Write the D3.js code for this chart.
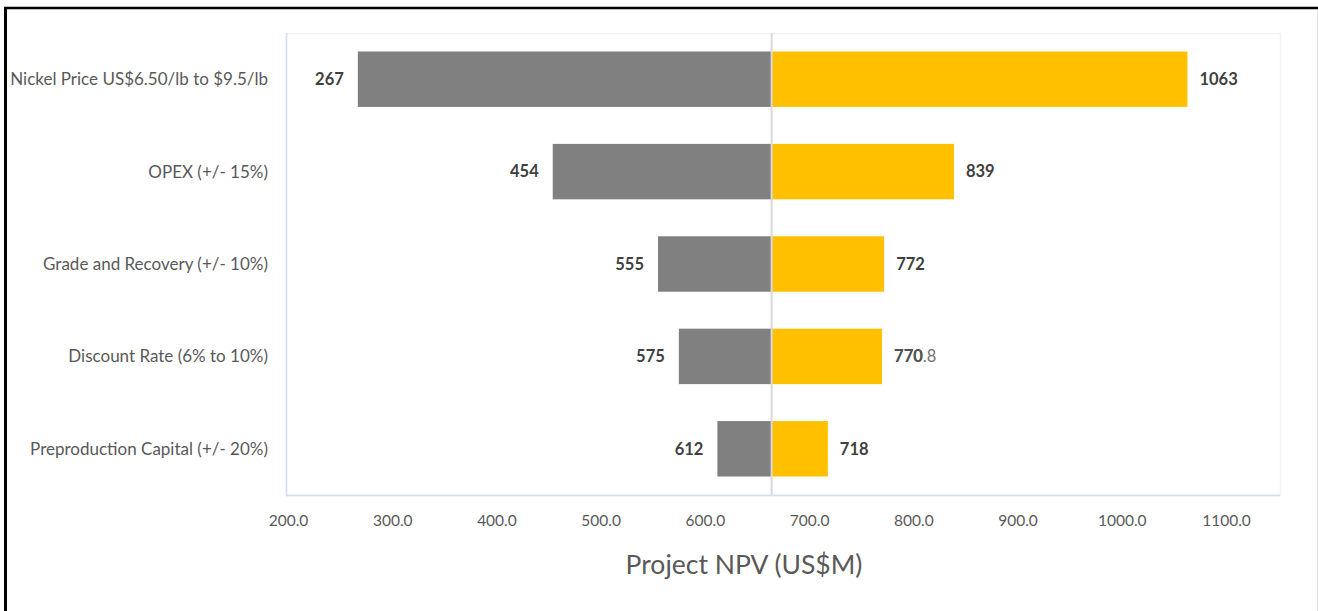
<!DOCTYPE html>
<html>
<head>
<meta charset="utf-8">
<script src="https://cdn.jsdelivr.net/npm/d3@7"></script>
<style>
  body { margin: 0; background: #fff; }
  svg { display: block; font-family: Lato, "Open Sans", sans-serif; }
</style>
</head>
<body>
<div id="chart-area"></div>
<script>
let width = 1318,
    height = 611;

// tornado data
let categories = [
    "Nickel Price US$6.50/lb to $9.5/lb",
    "OPEX (+/- 15%)",
    "Grade and Recovery (+/- 10%)",
    "Discount Rate (6% to 10%)",
    "Preproduction Capital (+/- 20%)"
];
let lowValues = [267, 454, 555, 575, 612];   // grey bars
let highValues = [1063, 839, 772, 770, 718]; // yellow bars
let baseValue = 664;
let tickValues = [200, 300, 400, 500, 600, 700, 800, 900, 1000, 1100];
let strayLabel = {row: 3, text: "770.8"}; // leftover label sitting on the 770 one

let grey = "#808080", yellow = "#FFC000";

let svg = d3.select("#chart-area")
    .append("svg")
    .attr("width", width)
    .attr("height", height);

// outer frame (black on top / left, faint on right)
svg.append("line").attr("x1", 4).attr("x2", 1318).attr("y1", 8).attr("y2", 8)
    .attr("stroke", "#000").attr("stroke-width", 2.5);
svg.append("line").attr("x1", 5.5).attr("x2", 5.5).attr("y1", 7).attr("y2", 611)
    .attr("stroke", "#000").attr("stroke-width", 3);
svg.append("line").attr("x1", 1317.5).attr("x2", 1317.5).attr("y1", 10).attr("y2", 611)
    .attr("stroke", "#e6e6e6").attr("stroke-width", 1);

let plot = {left: 286, right: 1280, top: 33, bottom: 495};

//scales
let x = d3.scaleLinear()
    .domain([200, 1100])
    .range([288, 1226]);

let y = d3.scaleBand()
    .domain(categories)
    .range([plot.top, plot.bottom])
    .paddingInner(0.4)
    .paddingOuter(0.2);

// plot area box
svg.append("rect")
    .attr("x", plot.left + 0.5)
    .attr("y", plot.top + 0.5)
    .attr("width", plot.right - plot.left)
    .attr("height", plot.bottom - plot.top)
    .attr("fill", "none")
    .attr("stroke", "#eef2fa")
    .attr("stroke-width", 1.5);
svg.append("path")
    .attr("d", `M${plot.left + 0.5},${plot.top} V${plot.bottom + 0.5} H${plot.right}`)
    .attr("fill", "none")
    .attr("stroke", "#d3ddf1")
    .attr("stroke-width", 1.5);

// grey bars (low side)
svg.selectAll(".low")
    .data(categories)
    .enter()
    .append("rect")
    .attr("class", "low")
    .attr("x", (d, i) => x(lowValues[i]))
    .attr("y", d => y(d))
    .attr("width", (d, i) => x(baseValue) - x(lowValues[i]))
    .attr("height", y.bandwidth())
    .attr("fill", grey);

// yellow bars (high side)
svg.selectAll(".high")
    .data(categories)
    .enter()
    .append("rect")
    .attr("class", "high")
    .attr("x", x(baseValue))
    .attr("y", d => y(d))
    .attr("width", (d, i) => x(highValues[i]) - x(baseValue))
    .attr("height", y.bandwidth())
    .attr("fill", yellow);

// base line
svg.append("line")
    .attr("x1", x(baseValue)).attr("x2", x(baseValue))
    .attr("y1", plot.top).attr("y2", plot.bottom)
    .attr("stroke", "#d9d9d9")
    .attr("stroke-width", 2);

// value labels
svg.selectAll(".lowLabel")
    .data(categories)
    .enter()
    .append("text")
    .attr("x", (d, i) => x(lowValues[i]) - 14)
    .attr("y", d => y(d) + y.bandwidth() / 2)
    .attr("dy", "0.35em")
    .attr("text-anchor", "end")
    .style("font-size", "16.5px")
    .style("font-weight", "bold")
    .style("fill", "#404040")
    .text((d, i) => lowValues[i]);

svg.selectAll(".highLabel")
    .data(categories)
    .enter()
    .append("text")
    .attr("x", (d, i) => x(highValues[i]) + 12)
    .attr("y", d => y(d) + y.bandwidth() / 2)
    .attr("dy", "0.35em")
    .style("font-size", "16.5px")
    .style("font-weight", "bold")
    .style("fill", "#404040")
    .text((d, i) => highValues[i]);

svg.append("text")
    .attr("x", x(highValues[strayLabel.row]) + 12)
    .attr("y", y(categories[strayLabel.row]) + y.bandwidth() / 2)
    .attr("dy", "0.35em")
    .style("font-size", "16.5px")
    .style("fill", "#595959")
    .style("opacity", 0.85)
    .text(strayLabel.text);

// category labels
svg.selectAll(".cat")
    .data(categories)
    .enter()
    .append("text")
    .attr("x", 268)
    .attr("y", d => y(d) + y.bandwidth() / 2)
    .attr("dy", "0.35em")
    .attr("text-anchor", "end")
    .style("font-size", "17px")
    .style("fill", "#595959")
    .text(d => d);

// x axis ticks
let xAxis = d3.axisBottom(x)
    .tickValues(tickValues)
    .tickFormat(d3.format(".1f"))
    .tickSize(0)
    .tickPadding(0);

let axisG = svg.append("g")
    .attr("transform", "translate(0,515)")
    .call(xAxis);
axisG.select(".domain").remove();
axisG.selectAll("text")
    .style("font-family", "Lato, 'Open Sans', sans-serif")
    .style("font-size", "15.5px")
    .style("fill", "#595959");

// axis title
svg.append("text")
    .attr("x", 744)
    .attr("y", 574)
    .attr("text-anchor", "middle")
    .style("font-size", "26.5px")
    .style("fill", "#595959")
    .text("Project NPV (US$M)");
</script>
</body>
</html>
